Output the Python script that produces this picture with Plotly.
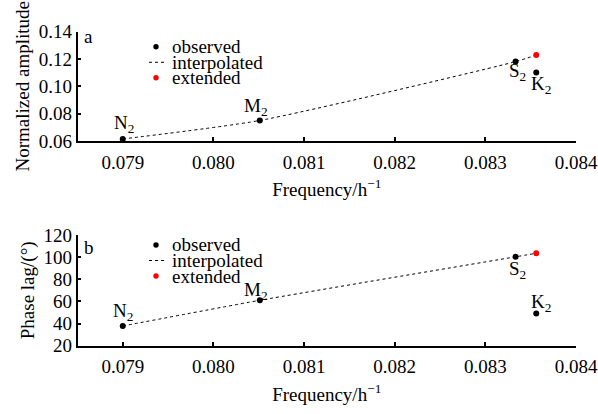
import plotly.graph_objects as go

W, H = 598, 414
FONT = "'Liberation Serif', 'Times New Roman', Times, serif"
FS = 19

constituents = ["N<sub>2</sub>", "M<sub>2</sub>", "S<sub>2</sub>", "K<sub>2</sub>"]
freq = [0.0789992, 0.0805114, 0.0833333, 0.0835614]
amp_obs = [0.0615, 0.0750, 0.1180, 0.1100]
phase_obs = [37.8, 61.0, 100.3, 49.0]
amp_ext = 0.1228
phase_ext = 103.5

x_ticks = [0.079, 0.080, 0.081, 0.082, 0.083, 0.084]
x_ticklabels = ["0.079", "0.080", "0.081", "0.082", "0.083", "0.084"]
amp_ticks = [0.06, 0.08, 0.10, 0.12, 0.14]
amp_ticklabels = ["0.06", "0.08", "0.10", "0.12", "0.14"]
phase_ticks = [20, 40, 60, 80, 100, 120]
phase_ticklabels = ["20", "40", "60", "80", "100", "120"]

# interpolation curve nodes: observed N2, M2, S2 and extended value at K2 frequency
interp_x = freq[:3] + [freq[3]]
amp_interp = amp_obs[:3] + [amp_ext]
phase_interp = phase_obs[:3] + [phase_ext]


def px(x):
    return x / W


def py(y):
    return 1 - y / H


fig = go.Figure()

panels = [
    ("x", "y", amp_obs, amp_interp, amp_ext),
    ("x2", "y2", phase_obs, phase_interp, phase_ext),
]
for xa, ya, obs, interp, ext in panels:
    fig.add_trace(go.Scatter(x=interp_x, y=interp, mode="lines", xaxis=xa, yaxis=ya,
                             line=dict(color="black", width=1, dash="3px,3px", shape="spline", smoothing=0.6),
                             showlegend=False, hoverinfo="skip"))
    fig.add_trace(go.Scatter(x=freq, y=obs, mode="markers", xaxis=xa, yaxis=ya,
                             marker=dict(color="black", size=6), showlegend=False))
    fig.add_trace(go.Scatter(x=[freq[3]], y=[ext], mode="markers", xaxis=xa, yaxis=ya,
                             marker=dict(color="red", size=6), showlegend=False))

xdom = [px(77.5), px(576)]
axis_common = dict(showline=True, linecolor="black", linewidth=1.5, ticks="inside", ticklen=4,
                   tickwidth=1.5, tickcolor="black", showgrid=False, zeroline=False, automargin=False,
                   tickfont=dict(family=FONT, size=FS, color="black"))
xtitle = dict(text="Frequency/h<sup>−1</sup>", font=dict(family=FONT, size=FS), standoff=11)

fig.update_layout(
    width=W, height=H,
    margin=dict(l=0, r=0, t=0, b=0, autoexpand=False),
    paper_bgcolor="white", plot_bgcolor="white",
    font=dict(family=FONT, size=FS, color="black"),
    xaxis=dict(domain=xdom, anchor="y", range=[0.0785, 0.084], tickvals=x_ticks, ticktext=x_ticklabels,
               title=xtitle, ticklabelstandoff=3, **axis_common),
    yaxis=dict(domain=[py(141), py(31.5)], anchor="x", range=[0.06, 0.14], tickvals=amp_ticks,
               ticktext=amp_ticklabels,
               title=dict(text="Normalized amplitude", font=dict(family=FONT, size=FS), standoff=4),
               **axis_common),
    xaxis2=dict(domain=xdom, anchor="y2", range=[0.0785, 0.084], tickvals=x_ticks, ticktext=x_ticklabels,
                title=xtitle, ticklabelstandoff=3, **axis_common),
    yaxis2=dict(domain=[py(345.7), py(235)], anchor="x2", range=[20, 120], tickvals=phase_ticks,
                ticktext=phase_ticklabels,
                title=dict(text="Phase lag/(°)", font=dict(family=FONT, size=FS), standoff=4),
                **axis_common),
)

annotations = []
shapes = []

# point labels: (xshift, yshift, yanchor)
label_offsets_top = [(1, 1, "bottom"), (-4, -1, "bottom"), (2, 4, "top"), (5, 2, "top")]
label_offsets_bot = [(0, 0, "bottom"), (-4, -5, "bottom"), (2, 1, "top"), (5, -3, "bottom")]
for (xa, ya, obs, offs) in [("x", "y", amp_obs, label_offsets_top), ("x2", "y2", phase_obs, label_offsets_bot)]:
    for name, fx, fy, (dx, dy, va) in zip(constituents, freq, obs, offs):
        annotations.append(dict(x=fx, y=fy, xref=xa, yref=ya, text=name, showarrow=False,
                                xshift=dx, yshift=dy, yanchor=va, xanchor="center",
                                font=dict(family=FONT, size=FS, color="black")))

# panel letters and legends (drawn manually)
for letter, ytop, rows in [("a", 37, [46.7, 62.3, 77.7]), ("b", 247, [245, 260.5, 276])]:
    annotations.append(dict(x=px(82), y=py(ytop), xref="paper", yref="paper", text=letter,
                            showarrow=False, xanchor="left", yanchor="middle",
                            font=dict(family=FONT, size=FS, color="black")))
    for txt, yy in zip(["observed", "interpolated", "extended"], rows):
        annotations.append(dict(x=px(170), y=py(yy), xref="paper", yref="paper", text=txt,
                                showarrow=False, xanchor="left", yanchor="middle",
                                font=dict(family=FONT, size=FS, color="black")))
    r = 2.7
    for col, yy in [("black", rows[0]), ("red", rows[2])]:
        shapes.append(dict(type="circle", xref="paper", yref="paper",
                           x0=px(156 - r), x1=px(156 + r), y0=py(yy + r), y1=py(yy - r),
                           fillcolor=col, line=dict(width=0)))
    shapes.append(dict(type="line", xref="paper", yref="paper", x0=px(149), x1=px(165),
                       y0=py(rows[1]), y1=py(rows[1]), line=dict(color="black", width=1, dash="3px,3px")))

fig.update_layout(annotations=annotations, shapes=shapes)
fig.write_html("out.html")
